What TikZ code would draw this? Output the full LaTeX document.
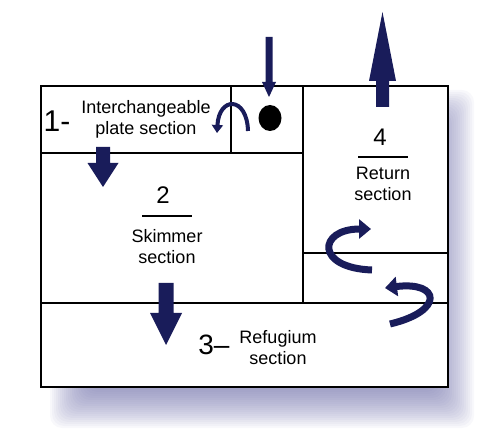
\documentclass[tikz,border=0pt]{standalone}
\usepackage{fontspec}
\setmainfont{Liberation Sans}
\usetikzlibrary{arrows.meta}
\definecolor{flowblue}{RGB}{25,28,90}
\definecolor{shadeblue}{RGB}{95,95,160}
\def\blockarrow(#1,#2,#3,#4)(#5,#6){\fill[flowblue] ({#1-#5/2},#2) -- ({#1-#5/2},#3) -- ({#1-#6/2},#3) -- (#1,#4) -- ({#1+#6/2},#3) -- ({#1+#5/2},#3) -- ({#1+#5/2},#2) -- cycle;}
\tikzset{
  wall/.style={line width=1.6pt},
  outerwall/.style={line width=2.6pt},
  rulebar/.style={line width=1.6pt},
  sectxt/.style={font=\fontsize{18}{21}\selectfont, align=center, inner sep=0pt},
  bignum/.style={font=\fontsize{24}{28}\selectfont, inner sep=0pt},
  bentflow/.style={draw=flowblue, line width=7pt, -{Triangle[length=12pt,width=19pt]}},
  smallbent/.style={draw=flowblue, line width=4pt, -{Triangle[length=8pt,width=11pt]}}
}

\begin{document}
\begin{tikzpicture}[x=1pt,y=1pt]
		\useasboundingbox (0,0) rectangle (500,436);
		%%%%% SHADOW %%%%%
		\foreach \e in {-24,-22,...,24}
			\fill[shadeblue, opacity=0.045, rounded corners=12pt] ({74-\e},{32-\e}) rectangle ({450+\e},{322+\e});
		
		%%%%% TANK %%%%%
		\fill[white] (41,49) rectangle (448,350);
		\draw[wall] (41,283) -- (303,283);
		\draw[wall] (231,350) -- (231,283);
		\draw[wall] (303,350) -- (303,133);
		\draw[wall] (41,133) -- (448,133);
		\draw[wall] (303,183) -- (448,183);
		\draw[outerwall] (41,49) rectangle (448,350);
		
		%%%%% FLOW %%%%%
		\blockarrow(269,399,354,339)(7,14)
		\blockarrow(382.5,329,355,424)(13,27)
		\blockarrow(103,289,273,249)(14,31)
		\blockarrow(166,153,123,91)(15,32)
		\fill (270,318) ellipse (11.5 and 13);
		\draw[smallbent] (248,305) .. controls (247,340) and (219,340) .. (217,303);
		\draw[bentflow] (372,166) .. controls (315,168) and (318,207) .. (371,207);
		\draw[bentflow] (390,112) .. controls (445,125) and (440,155) .. (385,148);
		
		%%%%% TEXT %%%%%
		\node[inner sep=0pt, font=\fontsize{30}{34}\selectfont] (one) at (57,315) {1-};
		\node[sectxt] (plate) at (146,317) {Interchangeable\\plate section};
		\node[bignum] (two) at (163,241) {2};
		\draw[rulebar] (142,220) -- (192,220);
		\node[sectxt] (skim) at (167,189) {Skimmer\\section};
		\node[bignum] (four) at (380,299) {4};
		\draw[rulebar] (358,279) -- (408,279);
		\node[sectxt] (ret) at (383,252) {Return\\section};
		\node[inner sep=0pt, font=\fontsize{28}{32}\selectfont] (three) at (214,91) {3--};
		\node[sectxt] (refu) at (278,88) {Refugium\\section};
	\end{tikzpicture}
\end{document}
